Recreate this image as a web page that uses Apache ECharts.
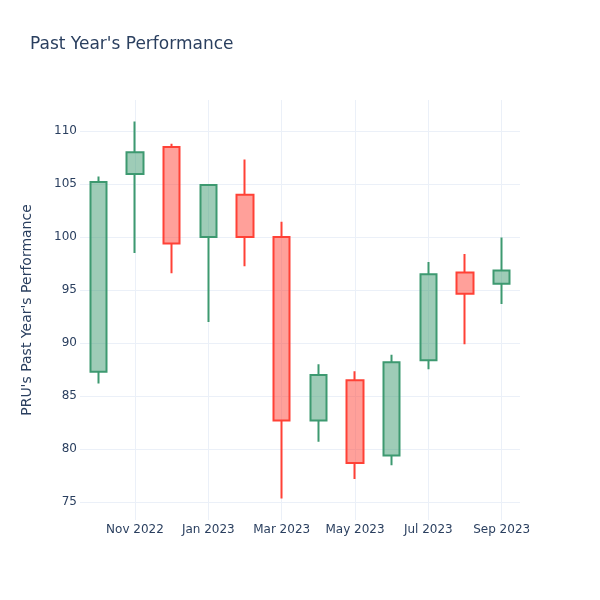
<!DOCTYPE html>
<html>
<head>
<meta charset="utf-8">
<script src="https://cdn.jsdelivr.net/npm/echarts@6/dist/echarts.min.js"></script>
<style>html,body{margin:0;padding:0;background:#fff;}#c{width:600px;height:600px;}</style>
</head>
<body>
<div id="c"></div>
<script>
const months = ["Oct 2022","Nov 2022","Dec 2022","Jan 2023","Feb 2023","Mar 2023","Apr 2023","May 2023","Jun 2023","Jul 2023","Aug 2023","Sep 2023"];
const openVals  = [87.3, 105.95, 108.5, 100.0, 104.0, 100.0, 82.7, 86.5, 79.4, 88.4, 96.65, 95.6];
const closeVals = [105.2, 108.0, 99.4, 104.9, 100.0, 82.7, 87.0, 78.7, 88.2, 96.5, 94.65, 96.85];
const lowVals   = [86.2, 98.5, 96.6, 92.0, 97.25, 75.35, 80.7, 77.2, 78.5, 87.55, 89.9, 93.7];
const highVals  = [105.7, 110.9, 108.8, 104.9, 107.3, 101.45, 88.0, 87.35, 88.9, 97.65, 98.4, 99.95];
const yMin = 73.33, yMax = 112.92;

const ohlc = months.map((m, i) => [openVals[i], closeVals[i], lowVals[i], highVals[i]]);
const font = 'DejaVu Sans';
const textColor = '#2a3f5f';
const grid = '#ebf0f8';
const showOdd = (i) => i % 2 === 1;

const chart = echarts.init(document.getElementById('c'));
chart.setOption({
  animation: false,
  backgroundColor: '#fff',
  title: {
    text: "Past Year's Performance",
    left: 25, top: 31,
    textStyle: { fontFamily: font, fontSize: 17, fontWeight: 'normal', color: textColor }
  },
  grid: { left: 80, right: 80, top: 100, bottom: 80, containLabel: false },
  xAxis: {
    type: 'category',
    data: months,
    boundaryGap: true,
    axisLine: { show: false },
    axisTick: { show: false },
    axisLabel: { interval: showOdd, color: textColor, fontFamily: font, fontSize: 12, margin: 4 },
    splitLine: { show: true, interval: showOdd, alignWithLabel: true, lineStyle: { color: grid, width: 1 } }
  },
  yAxis: {
    type: 'value',
    min: yMin, max: yMax,
    splitNumber: 8,
    name: "PRU's Past Year's Performance",
    nameLocation: 'middle',
    nameGap: 46,
    nameTextStyle: { fontFamily: font, fontSize: 14, color: textColor },
    axisLine: { show: false },
    axisTick: { show: false },
    axisLabel: { showMinLabel: false, showMaxLabel: false, color: textColor, fontFamily: font, fontSize: 12, margin: 3 },
    splitLine: { show: true, showMinLine: false, showMaxLine: false, lineStyle: { color: grid, width: 1 } }
  },
  series: [{
    type: 'candlestick',
    data: ohlc,
    barWidth: 17,
    itemStyle: {
      color: 'rgba(61,153,112,0.5)',
      color0: 'rgba(255,65,54,0.5)',
      borderColor: '#3D9970',
      borderColor0: '#FF4136',
      borderWidth: 2
    }
  }]
});
</script>
</body>
</html>
